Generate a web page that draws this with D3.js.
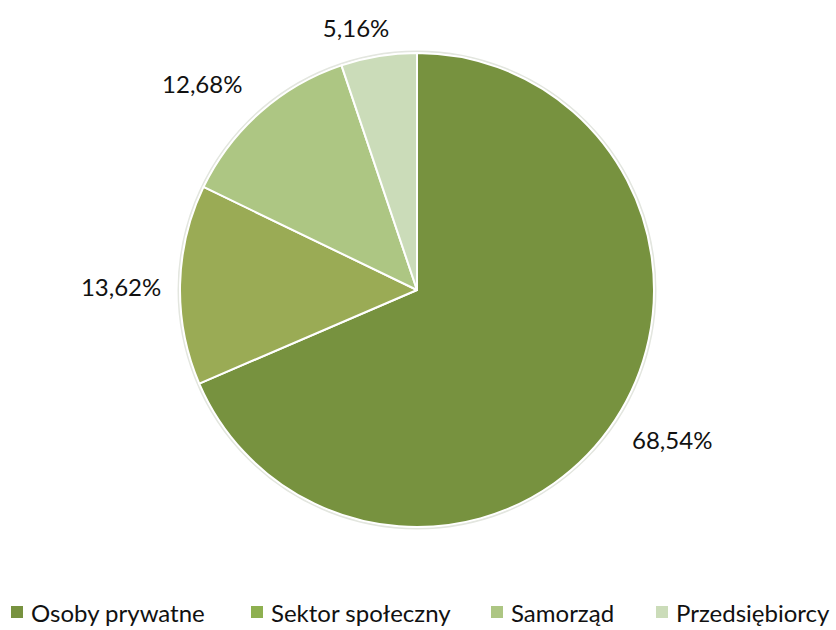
<!DOCTYPE html>
<html><head><meta charset="utf-8">
<script src="https://cdn.jsdelivr.net/npm/d3@7"></script>
<style>html,body{margin:0;padding:0;background:#fff;}svg{display:block;}</style>
</head><body>
<svg id="chart" width="836" height="630"></svg>
<script>
const categories = ["Osoby prywatne", "Sektor społeczny", "Samorząd", "Przedsiębiorcy"];
const values = [68.54, 13.62, 12.68, 5.16];
const valueLabels = ["68,54%", "13,62%", "12,68%", "5,16%"];
const colors = ["#77923f", "#9aab55", "#adc683", "#cbdcb9"];
const legendColors = ["#77923f", "#8eb050", "#adc683", "#cbdcb9"];

const svg = d3.select("#chart");
const cx = 417, cy = 290, R = 237;
const labelR = 296;
const labelShift = [[8, -13], [0, 3], [-19, 16], [-40, 0]];

const pie = d3.pie().sort(null).value(d => d)(values);
const arc = d3.arc().innerRadius(0).outerRadius(R);
const labelArc = d3.arc().innerRadius(labelR).outerRadius(labelR);

const g = svg.append("g").attr("transform", `translate(${cx},${cy})`);
g.append("circle").attr("r", R + 1.5).attr("fill", "none").attr("stroke", "#e3e6df").attr("stroke-width", 2);
g.selectAll("path.slice").data(pie).join("path")
  .attr("class", "slice")
  .attr("d", arc)
  .attr("fill", (d, i) => colors[i])
  .attr("stroke", "#ffffff")
  .attr("stroke-width", 2)
  .attr("stroke-linejoin", "round");

g.selectAll("text.lbl").data(pie).join("text")
  .attr("class", "lbl")
  .attr("transform", (d, i) => {
    let [x, y] = labelArc.centroid(d);
    if (i === 3) { // small slice: pulled in to stay on the page
      [x, y] = d3.arc().innerRadius(266).outerRadius(266).centroid(d);
      return `translate(${x - 18},${y})`;
    }
    return `translate(${x + labelShift[i][0]},${y + labelShift[i][1]})`;
  })
  .attr("text-anchor", "middle")
  .attr("dominant-baseline", "central")
  .attr("font-family", "Lato, 'Open Sans', sans-serif")
  .attr("font-size", 24)
  .attr("fill", "#111")
  .text((d, i) => valueLabels[i]);

// legend
const legendPos = [11, 251, 491, 656];
const lg = svg.append("g").attr("transform", "translate(0,612)");
const items = lg.selectAll("g.item").data(categories).join("g")
  .attr("class", "item")
  .attr("transform", (d, i) => `translate(${legendPos[i]},0)`);
items.append("rect").attr("x", 0).attr("y", -6).attr("width", 12).attr("height", 12)
  .attr("fill", (d, i) => legendColors[i]);
items.append("text").attr("x", 20).attr("y", 0)
  .attr("dominant-baseline", "central")
  .attr("font-family", "Lato, 'Open Sans', sans-serif")
  .attr("font-size", 24)
  .attr("fill", "#111")
  .text(d => d);
</script>
</body></html>
